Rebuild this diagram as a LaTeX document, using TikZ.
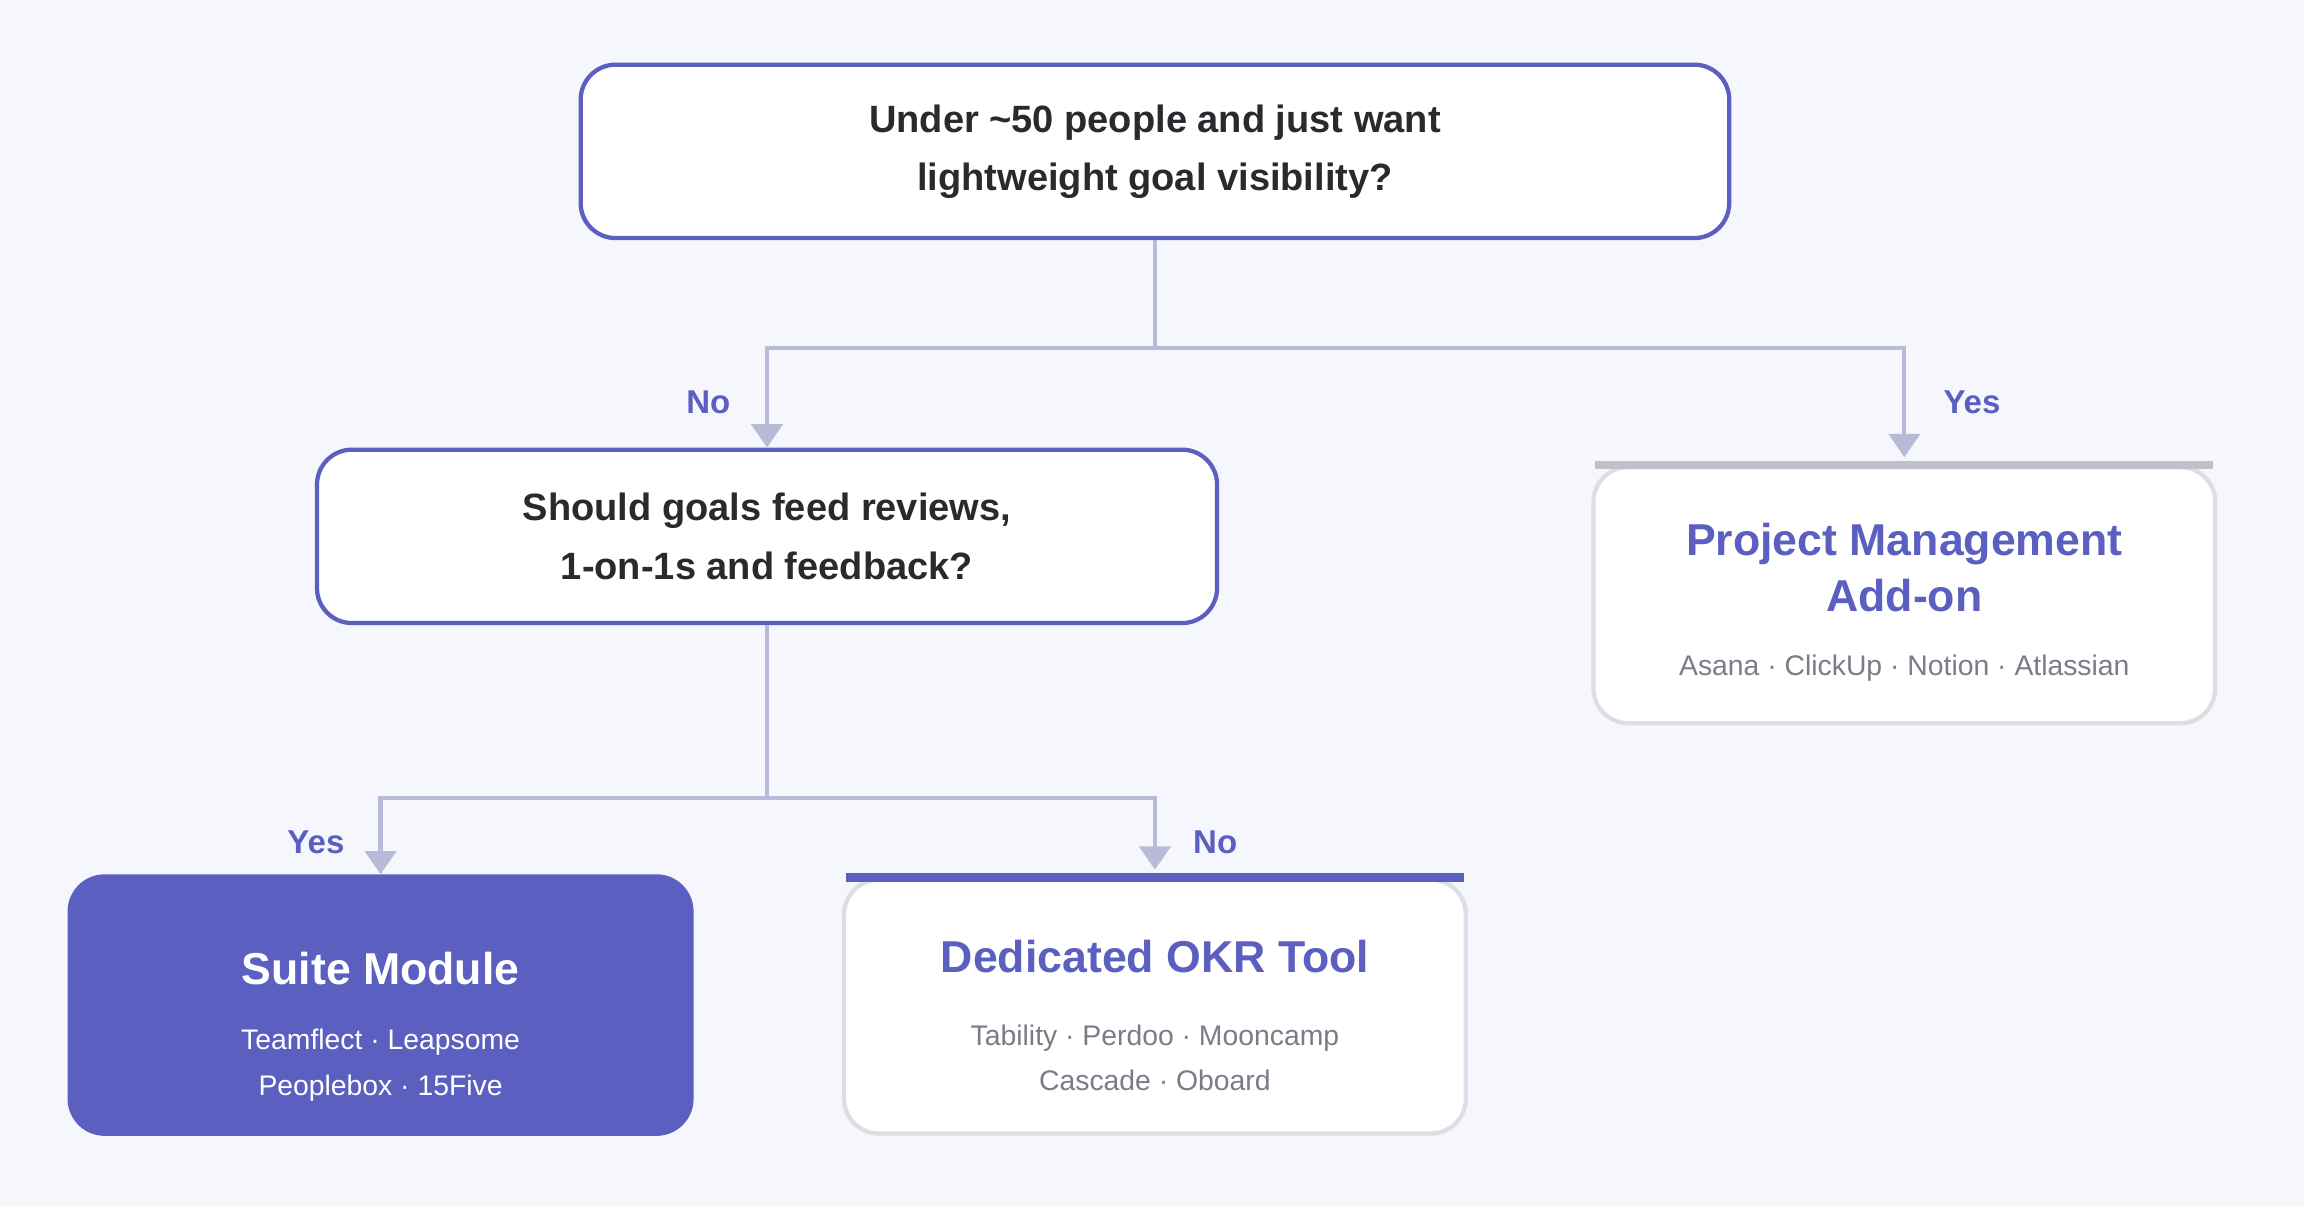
\documentclass[tikz,border=0pt]{standalone}
\usepackage{fontspec}
\setmainfont{Liberation Sans}
\usetikzlibrary{arrows.meta,positioning}
\definecolor{bgc}{HTML}{F5F7FC}
\definecolor{ind}{HTML}{5A5FC0}
\definecolor{wire}{HTML}{B8BAD8}
\definecolor{edgc}{HTML}{DDDDE5}
\definecolor{barg}{HTML}{BFC0C8}
\definecolor{subc}{HTML}{7A7C88}
\definecolor{txt}{HTML}{2A2A2E}
\tikzset{
  question/.style={draw=ind, line width=1.1pt, fill=white, rounded corners=9pt,
    align=center, text=txt, font=\fontsize{9.8}{15}\selectfont\bfseries},
  result/.style={draw=edgc, line width=1.1pt, fill=white, rounded corners=9pt,
    minimum width=5.63cm, align=center},
  wire/.style={draw=wire, line width=1.1pt},
  arr/.style={wire, -{Triangle[length=6pt,width=8pt]}},
  lab/.style={text=ind, font=\fontsize{8.5}{10}\selectfont\bfseries},
  ttl/.style={font=\fontsize{11.5}{14.5}\selectfont\bfseries},
  sub/.style={font=\fontsize{7.3}{11.7}\selectfont}
}
\begin{document}
\begin{tikzpicture}[x=0.01331cm, y=-0.01331cm]
\fill[bgc] (0,0) rectangle (1568,821);
\useasboundingbox (0,0) rectangle (1568,821);

% questions
\node[question, minimum width=10.4cm, minimum height=1.57cm] (q1) at (786,103)
  {Under \textasciitilde50 people and just want\\lightweight goal visibility?};
\node[question, minimum width=8.15cm, minimum height=1.57cm] (q2) at (522,365)
  {Should goals feed reviews,\\1-on-1s and feedback?};

% results
\node[result, minimum height=2.32cm] (pm) at (1296,405) {};
\node[ttl, text=ind, align=center] (pmt) at (1296,386) {Project Management\\Add-on};
\node[sub, text=subc] (pms) at (1296,455) {Asana · ClickUp · Notion · Atlassian};
\draw[barg, line width=2.2pt] ([xshift=1pt]pm.north west) -- ([xshift=-1pt]pm.north east);

\node[result, draw=ind, fill=ind, minimum height=2.33cm] (sm) at (259,684) {};
\node[ttl, text=white] (smt) at (259,659) {Suite Module};
\node[sub, text=white, align=center] (sms) at (259,725) {Teamflect · Leapsome\\Peoplebox · 15Five};

\node[result, minimum height=2.3cm] (okr) at (786,685) {};
\node[ttl, text=ind] (okrt) at (786,651) {Dedicated OKR Tool};
\node[sub, text=subc, align=center] (okrs) at (786,720) {Tability · Perdoo · Mooncamp\\Cascade · Oboard};
\draw[ind, line width=2.2pt] ([xshift=1pt]okr.north west) -- ([xshift=-1pt]okr.north east);

% connectors
\coordinate (j1) at (786,237);
\coordinate (j2) at (522,543);
\draw[wire] (q1.south) -- (j1);
\draw[arr] (j1) -| (q2.north);
\draw[arr] (j1) -| ([yshift=2pt]pm.north);
\draw[wire] (q2.south) -- (j2);
\draw[arr] (j2) -| (sm.north);
\draw[arr] (j2) -| ([yshift=2pt]okr.north);

\node[lab] (l1) at (482,274) {No};
\node[lab] (l2) at (1342,274) {Yes};
\node[lab] (l3) at (215,573) {Yes};
\node[lab] (l4) at (827,573) {No};
\end{tikzpicture}
\end{document}
